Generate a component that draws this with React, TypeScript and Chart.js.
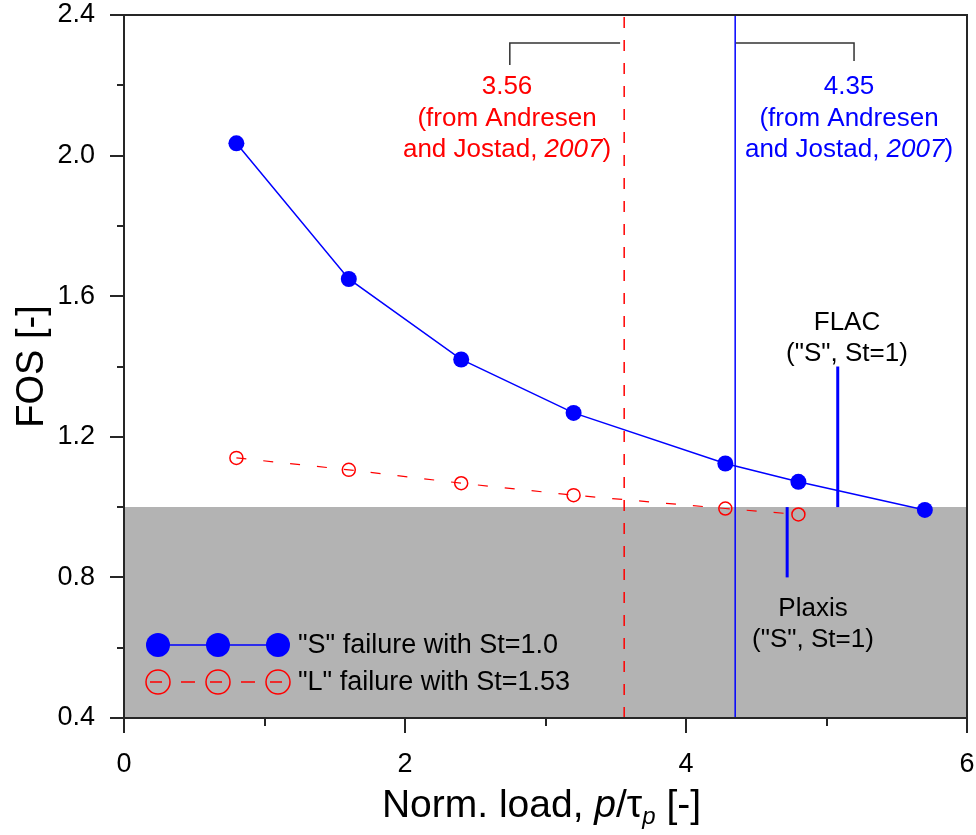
import React, { useEffect, useRef } from "react";
import { Chart, registerables } from "chart.js";

Chart.register(...registerables);

// ---------- data ----------
const sLoad = [0.8, 1.6, 2.4, 3.2, 4.28, 4.8, 5.7];
const sFOS = [2.035, 1.649, 1.42, 1.268, 1.124, 1.072, 0.992];
const lLoad = [0.8, 1.6, 2.4, 3.2, 4.28, 4.8];
const lFOS = [1.14, 1.106, 1.068, 1.034, 0.996, 0.979];

const andresenL = 3.56;
const andresenS = 4.35;
const failureFOS = 1.0;

const flacX = 5.08;
const flacFOS = [1.0, 1.4];
const plaxisX = 4.72;
const plaxisFOS = [0.8, 1.0];

const bracketLX = [2.746, 2.746, 3.531];
const bracketLY = [2.258, 2.32, 2.32];
const bracketRX = [4.355, 5.196, 5.196];
const bracketRY = [2.32, 2.32, 2.269];

const xMin = 0;
const xMax = 6;
const yMin = 0.4;
const yMax = 2.4;
const xTickValues = [0, 1, 2, 3, 4, 5, 6];
const xLabelValues = [0, 2, 4, 6];
const yTickValues = [0.4, 0.6, 0.8, 1.0, 1.2, 1.4, 1.6, 1.8, 2.0, 2.2, 2.4];
const yLabelValues = [0.4, 0.8, 1.2, 1.6, 2.0, 2.4];

const sLabel = '"S" failure with St=1.0';
const lLabel = '"L" failure with St=1.53';

// ---------- styles ----------
const BLUE = "#0000ff";
const RED = "#ff0000";
const GRAY = "#b3b3b3";
const AXIS = "#262626";
const FONT = "'Liberation Sans', Arial, Helvetica, sans-serif";

const pts = (xs: number[], ys: number[]) => xs.map((x, i) => ({ x, y: ys[i] }));

type Part = { t: string; italic?: boolean; size: number; dy?: number };

function drawParts(ctx: CanvasRenderingContext2D, parts: Part[], cx: number, baseline: number, color: string) {
  let total = 0;
  const widths = parts.map((p) => {
    ctx.font = `${p.italic ? "italic " : ""}${p.size}px ${FONT}`;
    const w = ctx.measureText(p.t).width;
    total += w;
    return w;
  });
  let x = cx - total / 2;
  ctx.fillStyle = color;
  ctx.textAlign = "left";
  ctx.textBaseline = "alphabetic";
  parts.forEach((p, i) => {
    ctx.font = `${p.italic ? "italic " : ""}${p.size}px ${FONT}`;
    ctx.fillText(p.t, x, baseline + (p.dy || 0));
    x += widths[i];
  });
}

const decorPlugin = {
  id: "decor",
  afterDraw(chart: any) {
    const ctx: CanvasRenderingContext2D = chart.ctx;
    const { left, right, top, bottom } = chart.chartArea;
    const xs = chart.scales.x;
    const ys = chart.scales.y;
    ctx.save();

    // frame
    ctx.strokeStyle = AXIS;
    ctx.lineWidth = 2;
    ctx.beginPath();
    ctx.moveTo(left, top);
    ctx.lineTo(right, top);
    ctx.lineTo(right, bottom);
    ctx.lineTo(left, bottom);
    ctx.closePath();
    ctx.stroke();

    // ticks
    ctx.lineWidth = 2;
    yTickValues.forEach((v) => {
      const major = yLabelValues.some((m) => Math.abs(m - v) < 1e-6);
      const py = Math.round(ys.getPixelForValue(v));
      ctx.beginPath();
      ctx.moveTo(left - (major ? 14 : 7), py);
      ctx.lineTo(left, py);
      ctx.stroke();
    });
    xTickValues.forEach((v) => {
      const major = xLabelValues.some((m) => Math.abs(m - v) < 1e-6);
      const px = Math.round(xs.getPixelForValue(v));
      ctx.beginPath();
      ctx.moveTo(px, bottom);
      ctx.lineTo(px, bottom + (major ? 15 : 8));
      ctx.stroke();
    });

    // axis titles
    drawParts(
      ctx,
      [
        { t: "Norm. load, ", size: 39 },
        { t: "p", italic: true, size: 39 },
        { t: "/", size: 39 },
        { t: "τ", size: 39 },
        { t: "p", italic: true, size: 24, dy: 7 },
        { t: " [-]", size: 39 },
      ],
      (left + right) / 2 - 4,
      817,
      "#000"
    );
    ctx.save();
    ctx.translate(43, (top + bottom) / 2);
    ctx.rotate(-Math.PI / 2);
    ctx.font = `38px ${FONT}`;
    ctx.fillStyle = "#000";
    ctx.textAlign = "center";
    ctx.textBaseline = "alphabetic";
    ctx.fillText("FOS [-]", 0, 0);
    ctx.restore();

    // Andresen annotations
    const ann = (color: string, value: string, cx: number) => {
      drawParts(ctx, [{ t: value, size: 26 }], cx, 94, color);
      drawParts(ctx, [{ t: "(from Andresen", size: 26 }], cx, 126, color);
      drawParts(
        ctx,
        [
          { t: "and Jostad, ", size: 26 },
          { t: "2007", italic: true, size: 26 },
          { t: ")", size: 26 },
        ],
        cx,
        157,
        color
      );
    };
    ann(RED, "3.56", 507);
    ann(BLUE, "4.35", 849);

    // FLAC / Plaxis labels
    drawParts(ctx, [{ t: "FLAC", size: 26 }], 847, 330, "#000");
    drawParts(ctx, [{ t: '("S", St=1)', size: 26 }], 847, 361, "#000");
    drawParts(ctx, [{ t: "Plaxis", size: 26 }], 813, 616, "#000");
    drawParts(ctx, [{ t: '("S", St=1)', size: 26 }], 813, 647, "#000");

    // legend
    const lx = [158, 218, 278];
    const r = 12;
    const y1 = 645;
    const y2 = 682;
    ctx.strokeStyle = BLUE;
    ctx.lineWidth = 1.5;
    ctx.beginPath();
    ctx.moveTo(lx[0], y1);
    ctx.lineTo(lx[2], y1);
    ctx.stroke();
    ctx.fillStyle = BLUE;
    lx.forEach((cx) => {
      ctx.beginPath();
      ctx.arc(cx, y1, r, 0, Math.PI * 2);
      ctx.fill();
    });
    ctx.strokeStyle = RED;
    ctx.lineWidth = 1.5;
    lx.forEach((cx) => {
      ctx.beginPath();
      ctx.arc(cx, y2, r, 0, Math.PI * 2);
      ctx.stroke();
      ctx.beginPath();
      ctx.moveTo(cx - 8, y2);
      ctx.lineTo(cx + 4, y2);
      ctx.stroke();
    });
    for (let i = 0; i < 2; i++) {
      const mid = (lx[i] + lx[i + 1]) / 2;
      ctx.beginPath();
      ctx.moveTo(mid - 7, y2);
      ctx.lineTo(mid + 7, y2);
      ctx.stroke();
    }
    ctx.fillStyle = "#000";
    ctx.font = `27px ${FONT}`;
    ctx.textAlign = "left";
    ctx.textBaseline = "middle";
    ctx.fillText(sLabel, 298, y1 + 1);
    ctx.fillText(lLabel, 298, y2 + 1);

    ctx.restore();
  },
};

export default function App() {
  const ref = useRef<HTMLCanvasElement>(null);

  useEffect(() => {
    if (!ref.current) return;
    const line = (extra: any) => ({
      showLine: true,
      pointRadius: 0,
      pointHoverRadius: 0,
      tension: 0,
      ...extra,
    });
    const chart = new Chart(ref.current, {
      type: "scatter",
      data: {
        datasets: [
          line({
            label: "failure zone",
            data: pts([xMin, xMax], [failureFOS, failureFOS]),
            fill: "start",
            backgroundColor: GRAY,
            borderWidth: 0,
            borderColor: GRAY,
            order: 20,
          }),
          line({
            label: "Andresen L",
            data: pts([andresenL, andresenL], [yMin, yMax]),
            borderColor: RED,
            borderWidth: 1.5,
            borderDash: [11, 12],
            order: 10,
          }),
          line({
            label: "Andresen S",
            data: pts([andresenS, andresenS], [yMin, yMax]),
            borderColor: BLUE,
            borderWidth: 1.5,
            order: 10,
          }),
          line({
            label: "FLAC",
            data: pts([flacX, flacX], flacFOS),
            borderColor: BLUE,
            borderWidth: 3,
            order: 9,
          }),
          line({
            label: "Plaxis",
            data: pts([plaxisX, plaxisX], plaxisFOS),
            borderColor: BLUE,
            borderWidth: 3,
            order: 9,
          }),
          line({
            label: "bracket L",
            data: pts(bracketLX, bracketLY),
            borderColor: "#333",
            borderWidth: 1.5,
            order: 9,
          }),
          line({
            label: "bracket R",
            data: pts(bracketRX, bracketRY),
            borderColor: "#333",
            borderWidth: 1.5,
            order: 9,
          }),
          {
            label: lLabel,
            data: pts(lLoad, lFOS),
            showLine: true,
            tension: 0,
            borderColor: RED,
            borderWidth: 1.2,
            borderDash: [10, 17],
            pointRadius: 6.5,
            pointBorderWidth: 1.5,
            pointBorderColor: RED,
            pointBackgroundColor: "rgba(0,0,0,0)",
            order: 2,
          },
          {
            label: sLabel,
            data: pts(sLoad, sFOS),
            showLine: true,
            tension: 0,
            borderColor: BLUE,
            borderWidth: 1.5,
            pointRadius: 8,
            pointBorderWidth: 0,
            pointBackgroundColor: BLUE,
            pointBorderColor: BLUE,
            order: 1,
          },
        ],
      },
      options: {
        animation: false,
        responsive: false,
        devicePixelRatio: 1,
        events: [],
        layout: { padding: { top: 15, right: 9, left: 0, bottom: 0 } },
        plugins: {
          legend: { display: false },
          tooltip: { enabled: false },
        },
        scales: {
          x: {
            type: "linear",
            min: xMin,
            max: xMax,
            grid: { display: false, drawTicks: false },
            border: { display: false },
            afterBuildTicks: (s: any) => {
              s.ticks = xLabelValues.map((v) => ({ value: v }));
            },
            afterFit: (s: any) => {
              s.height = 117;
              s.paddingLeft = 0;
              s.paddingRight = 0;
              s.paddingTop = 0;
              s.paddingBottom = 0;
            },
            ticks: {
              autoSkip: false,
              maxRotation: 0,
              padding: 30,
              color: "#000",
              font: { family: FONT, size: 27 },
              callback: (v: any) => String(v),
            },
          },
          y: {
            type: "linear",
            min: yMin,
            max: yMax,
            grid: { display: false, drawTicks: false },
            border: { display: false },
            afterBuildTicks: (s: any) => {
              s.ticks = yLabelValues.map((v) => ({ value: v }));
            },
            afterFit: (s: any) => {
              s.width = 124;
              s.paddingLeft = 0;
              s.paddingRight = 0;
              s.paddingTop = 0;
              s.paddingBottom = 0;
            },
            ticks: {
              autoSkip: false,
              padding: 29,
              color: "#000",
              font: { family: FONT, size: 27 },
              callback: (v: any) => Number(v).toFixed(1),
            },
          },
        },
      },
      plugins: [decorPlugin],
    } as any);
    return () => chart.destroy();
  }, []);

  return (
    <div
      style={{
        position: "absolute",
        left: 0,
        top: 0,
        width: 976,
        height: 835,
        background: "#fff",
      }}
    >
      <canvas ref={ref} width={976} height={835} style={{ display: "block", width: 976, height: 835 }} />
    </div>
  );
}
